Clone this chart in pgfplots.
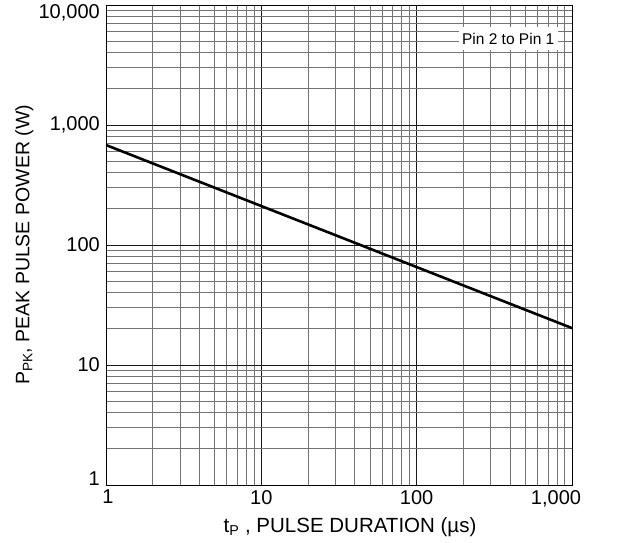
\documentclass[border=0pt]{standalone}
\usepackage{pgfplots}
\pgfplotsset{compat=1.18}
\usepackage{fontspec}
\setmainfont{Liberation Sans}
\begin{document}
\begin{tikzpicture}
\begin{axis}[
  scale only axis,
  width=466pt, height=480pt,
  xmode=log, ymode=log,
  xmin=1, xmax=1000, ymin=1, ymax=10000,
  xtick={1,10,100,1000},
  xticklabels={{\hspace*{2pt}1\hspace*{-2pt}},10,100,{\hspace*{-16pt}1,000\hspace*{16pt}}},
  ytick={1,10,100,1000,10000},
  yticklabels={{\raisebox{6.5pt}[\height][\depth]{1}},10,100,{1,000},{\raisebox{-8pt}[\height][\depth]{10,000}}},
  /pgf/number format/assume math mode=true,
  xticklabel style={font=\fontsize{20}{24}\selectfont, inner sep=0pt, anchor=north, yshift=-5pt},
  yticklabel style={font=\fontsize{20}{24}\selectfont, inner sep=0pt, anchor=east, xshift=-6pt},
  xlabel={t\textsubscript{P} , PULSE DURATION (µs)},
  ylabel={P\textsubscript{PK}, PEAK PULSE POWER (W)},
  xlabel style={font=\fontsize{20.5}{24}\selectfont, inner sep=0pt, at={(axis description cs:0.5236,-0.0979)}, anchor=base},
  ylabel style={font=\fontsize{19.5}{23}\selectfont, inner sep=0pt, at={(axis description cs:-0.1953,0.5)}, anchor=north, rotate=0},
  grid=both,
  major grid style={black!90, line width=0.8pt},
  minor grid style={black!55, line width=0.8pt},
  major tick length=0pt, minor tick length=0pt,
  axis line style={black, line width=0.9pt},
  clip=true,
]
\addplot[black, line width=2.6pt] coordinates {(1,681) (1000,20.3)};
\node[fill=white, anchor=east, inner xsep=3.5pt, inner ysep=0pt, minimum height=23pt, font=\fontsize{15.5}{18}\selectfont] at (rel axis cs:0.970,0.930) {Pin 2 to Pin 1};
\end{axis}
\pgfresetboundingbox
\path[use as bounding box] (-106pt,-57pt) rectangle (511pt,485pt);
\end{tikzpicture}
\end{document}
